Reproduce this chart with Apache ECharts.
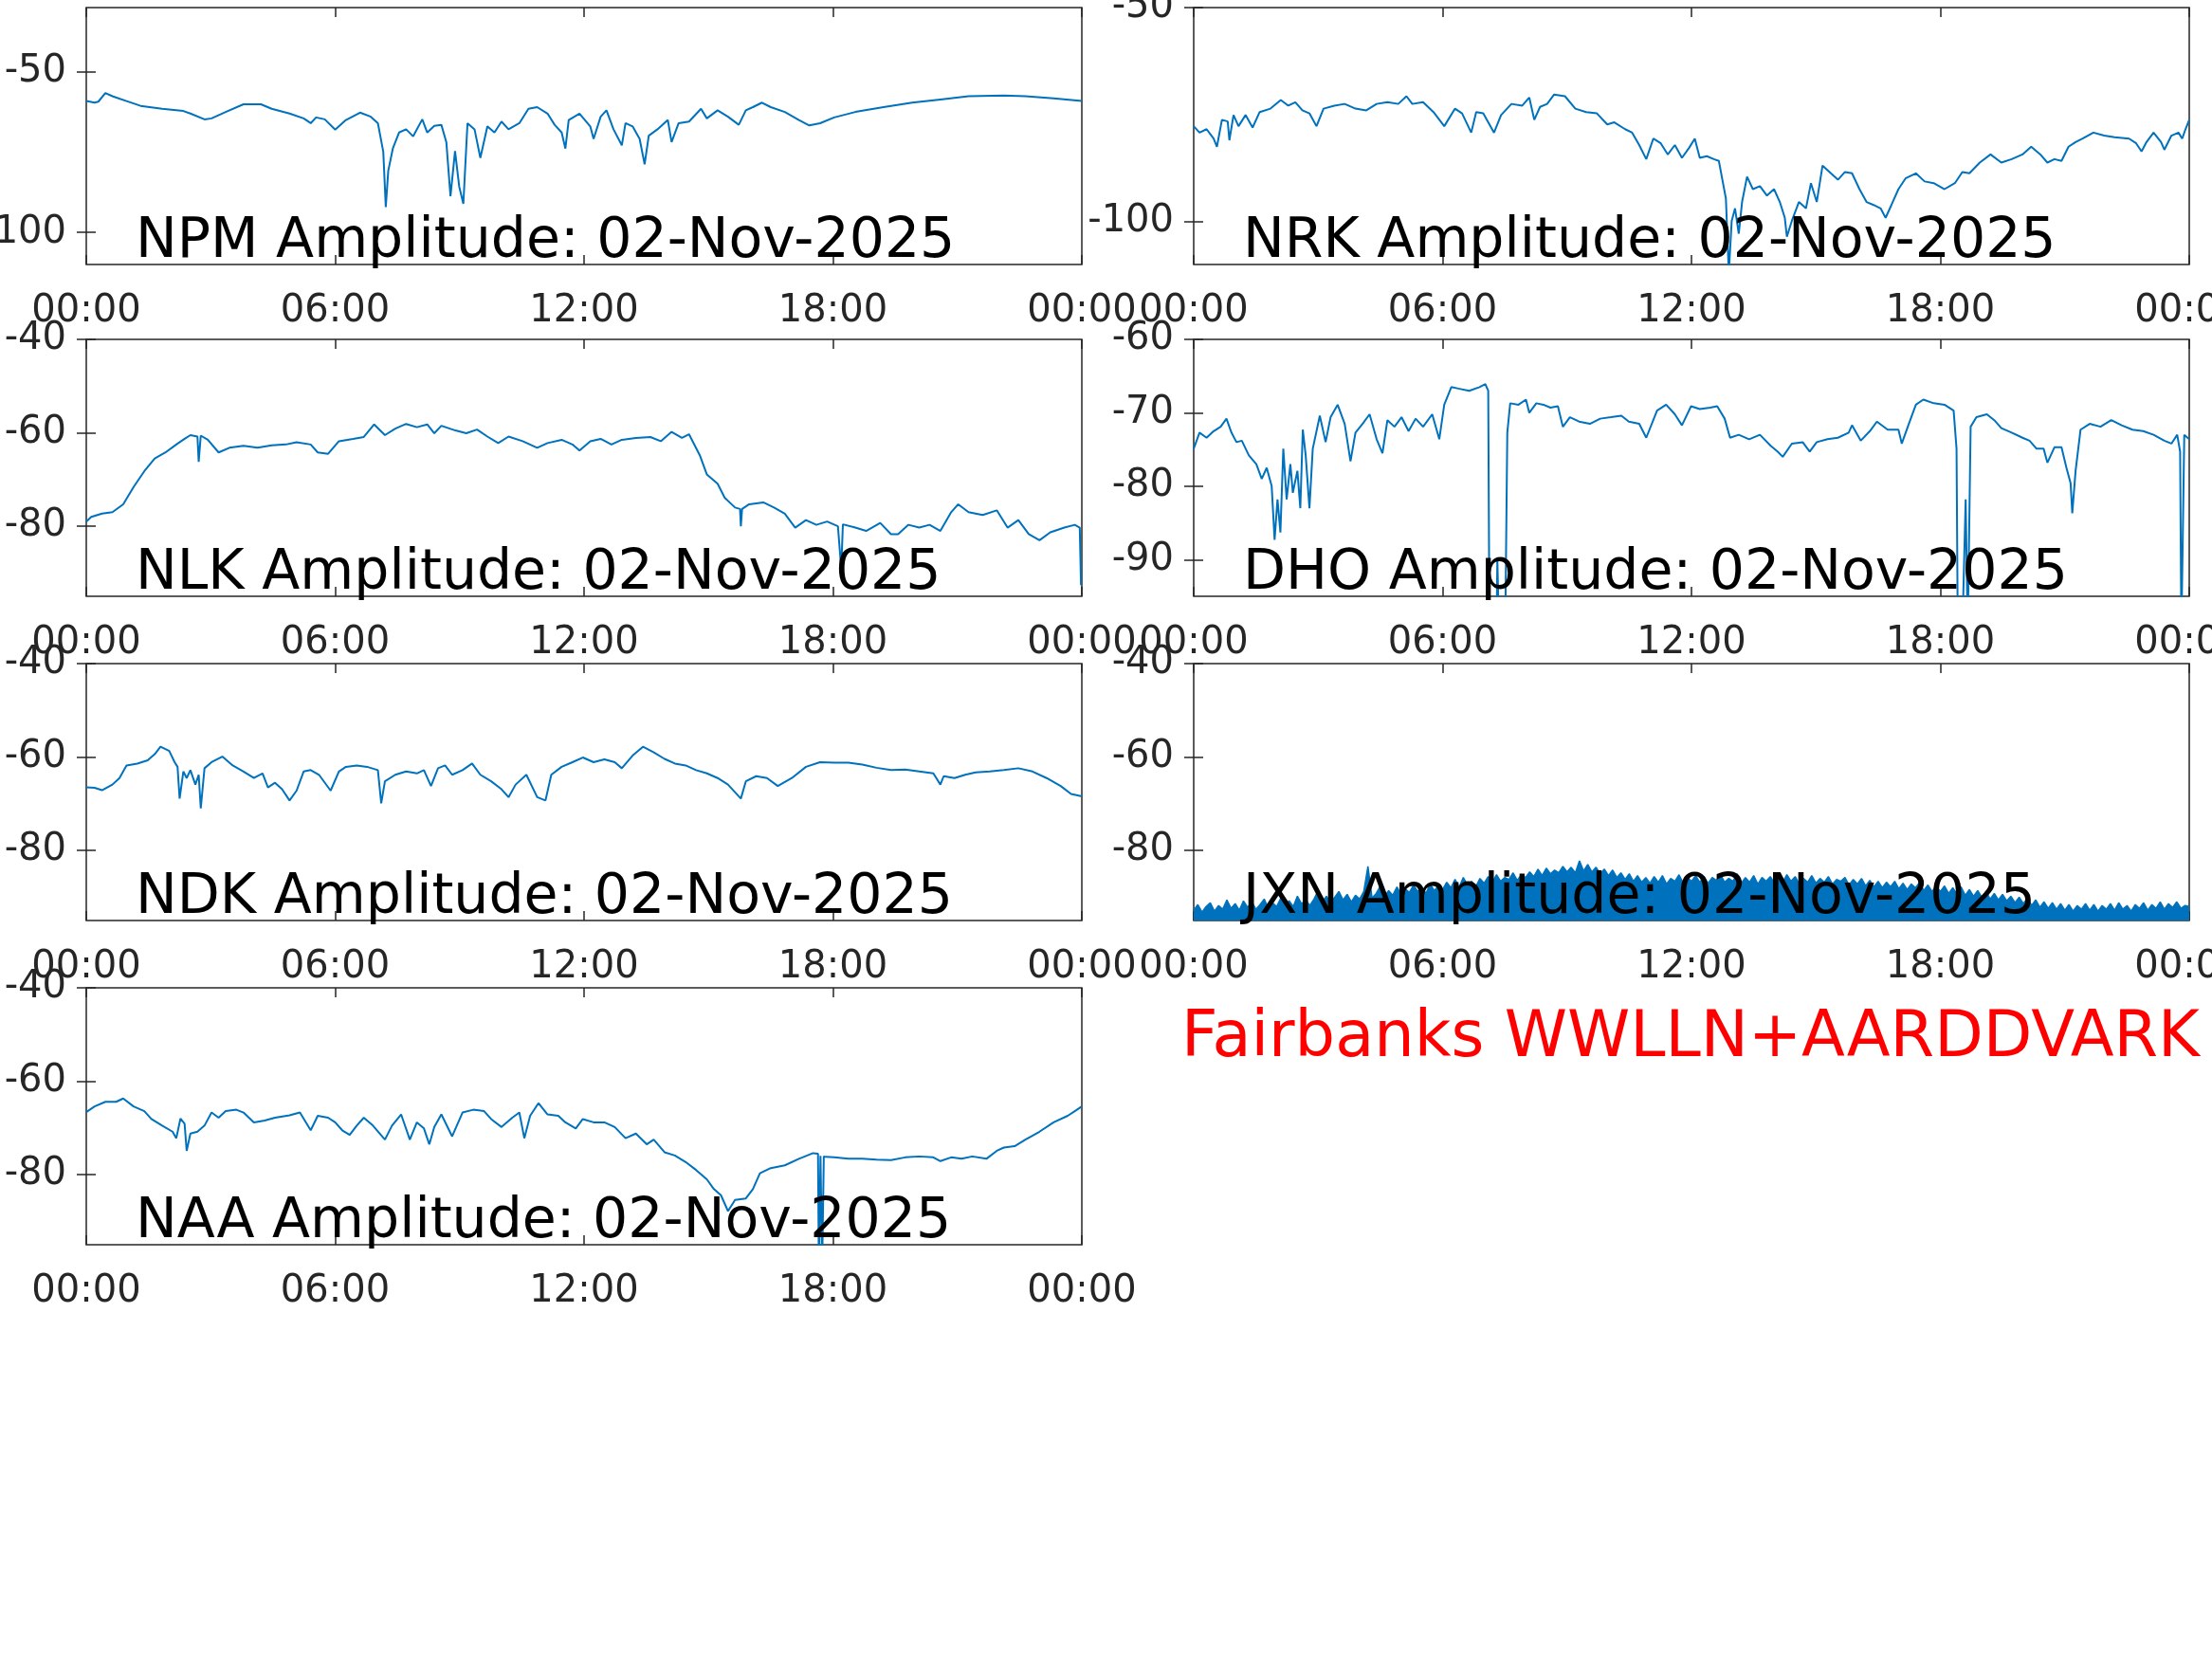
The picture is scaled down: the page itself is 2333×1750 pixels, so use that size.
<!DOCTYPE html>
<html>
<head>
<meta charset="utf-8">
<title>Fairbanks WWLLN+AARDDVARK</title>
<script src="https://cdn.jsdelivr.net/npm/echarts@6/dist/echarts.min.js"></script>
<style>
  html, body { margin: 0; padding: 0; background: #fff; }
  #chart { width: 2333px; height: 1750px; }
</style>
</head>
<body>
<div id="chart"></div>
<script>
// amplitude (dB) vs hour of day, 02-Nov-2025
const hourTicks = [0, 6, 12, 18, 24]
const dayLabel = '02-Nov-2025'

const npm = [[0,-59.1],[0.2,-59.6],[0.29,-59.3],[0.46,-56.6],[0.63,-57.6],[0.97,-59.1],[1.31,-60.6],[1.83,-61.5],[2.34,-62.2],[2.51,-63.0],[2.85,-64.8],[3.02,-64.5],[3.36,-62.5],[3.79,-60.1],[4.21,-60.1],[4.47,-61.5],[4.9,-63.0],[5.24,-64.5],[5.41,-66.0],[5.54,-64.2],[5.75,-64.8],[6.0,-68.0],[6.26,-65.0],[6.6,-62.7],[6.86,-64.0],[7.03,-66.0],[7.16,-74.9],[7.22,-92.1],[7.28,-80.8],[7.39,-73.9],[7.54,-68.9],[7.71,-67.9],[7.88,-70.1],[8.1,-64.8],[8.22,-68.9],[8.39,-66.8],[8.56,-66.5],[8.68,-71.9],[8.78,-88.7],[8.89,-74.7],[8.99,-85.7],[9.09,-91.1],[9.19,-66.0],[9.36,-67.9],[9.5,-76.8],[9.67,-67.0],[9.84,-68.9],[10.01,-65.5],[10.18,-67.9],[10.44,-66.0],[10.66,-61.5],[10.87,-61.0],[11.12,-63.0],[11.29,-66.5],[11.46,-68.9],[11.55,-73.9],[11.63,-65.0],[11.89,-63.0],[12.15,-67.0],[12.23,-70.9],[12.4,-64.0],[12.54,-62.0],[12.71,-67.9],[12.91,-72.9],[13.0,-66.0],[13.17,-67.0],[13.34,-70.9],[13.46,-78.8],[13.56,-69.9],[13.77,-67.9],[14.02,-65.0],[14.11,-71.9],[14.28,-66.0],[14.53,-65.5],[14.82,-61.5],[14.96,-64.5],[15.22,-62.0],[15.47,-64.0],[15.73,-66.5],[15.9,-62.0],[16.07,-61.0],[16.29,-59.6],[16.5,-61.0],[16.84,-62.5],[17.18,-65.0],[17.43,-66.7],[17.69,-66.0],[18.03,-64.2],[18.54,-62.5],[19.22,-61.0],[19.91,-59.6],[20.59,-58.6],[21.27,-57.6],[22.12,-57.4],[22.64,-57.6],[23.32,-58.3],[24,-59.1]]

const nrk = [[0,-77.7],[0.14,-79.2],[0.31,-78.4],[0.48,-80.6],[0.56,-82.5],[0.68,-76.2],[0.82,-76.6],[0.86,-81.0],[0.96,-75.1],[1.08,-77.7],[1.25,-75.1],[1.42,-78.0],[1.59,-74.4],[1.85,-73.6],[2.1,-71.6],[2.28,-72.9],[2.45,-72.1],[2.62,-74.0],[2.79,-74.7],[2.96,-77.7],[3.13,-73.6],[3.39,-72.9],[3.64,-72.5],[3.9,-73.6],[4.16,-74.0],[4.41,-72.5],[4.67,-72.1],[4.93,-72.5],[5.13,-70.7],[5.27,-72.5],[5.53,-72.1],[5.78,-74.4],[6.04,-77.7],[6.3,-73.6],[6.47,-74.7],[6.69,-79.2],[6.81,-74.4],[6.98,-74.7],[7.24,-79.2],[7.41,-75.1],[7.66,-72.5],[7.92,-72.9],[8.09,-71.0],[8.21,-76.2],[8.35,-73.2],[8.52,-72.5],[8.69,-70.3],[8.95,-70.7],[9.2,-73.6],[9.46,-74.4],[9.72,-74.7],[9.97,-77.3],[10.14,-76.8],[10.4,-78.4],[10.57,-79.2],[10.74,-82.1],[10.91,-85.4],[11.08,-80.6],[11.26,-81.7],[11.43,-84.3],[11.6,-82.1],[11.77,-85.1],[11.94,-82.8],[12.08,-80.6],[12.2,-85.1],[12.37,-84.7],[12.54,-85.4],[12.66,-85.8],[12.76,-91.0],[12.83,-94.6],[12.9,-112],[12.97,-99.8],[13.05,-96.9],[13.14,-102.8],[13.22,-95.4],[13.34,-89.5],[13.48,-92.4],[13.65,-91.7],[13.82,-93.9],[13.99,-92.4],[14.13,-95.4],[14.25,-99.1],[14.3,-103.5],[14.42,-99.8],[14.59,-95.4],[14.76,-96.9],[14.88,-91.0],[15.02,-95.4],[15.16,-86.9],[15.36,-88.7],[15.53,-90.2],[15.7,-88.4],[15.87,-88.7],[16.05,-92.4],[16.22,-95.4],[16.39,-96.1],[16.56,-96.9],[16.68,-99.1],[16.82,-96.1],[16.99,-92.4],[17.16,-89.9],[17.41,-88.7],[17.62,-90.6],[17.84,-91.0],[18.1,-92.4],[18.35,-91.0],[18.53,-88.4],[18.7,-88.7],[18.95,-86.2],[19.21,-84.3],[19.47,-86.2],[19.72,-85.4],[19.98,-84.3],[20.19,-82.5],[20.41,-84.3],[20.58,-86.2],[20.75,-85.4],[20.92,-85.8],[21.09,-82.5],[21.26,-81.4],[21.43,-80.6],[21.69,-79.2],[21.95,-79.9],[22.2,-80.3],[22.55,-80.6],[22.72,-81.7],[22.85,-83.6],[22.97,-81.4],[23.14,-79.2],[23.32,-81.4],[23.4,-83.2],[23.57,-79.9],[23.74,-79.2],[23.83,-80.6],[23.91,-78.4],[24,-76.2]]

const nlk = [[0,-79.0],[0.12,-78.0],[0.38,-77.3],[0.63,-77.0],[0.89,-75.3],[1.14,-71.6],[1.4,-68.2],[1.65,-65.5],[1.91,-64.2],[2.17,-62.5],[2.37,-61.3],[2.51,-60.5],[2.68,-60.8],[2.71,-66.2],[2.76,-60.6],[2.93,-61.5],[3.19,-64.2],[3.45,-63.2],[3.79,-62.8],[4.13,-63.2],[4.47,-62.7],[4.81,-62.5],[5.07,-62.0],[5.41,-62.5],[5.58,-64.2],[5.83,-64.5],[6.09,-61.8],[6.43,-61.3],[6.69,-60.9],[6.94,-58.2],[7.2,-60.5],[7.45,-59.1],[7.71,-58.1],[7.97,-58.8],[8.22,-58.2],[8.39,-60.1],[8.56,-58.5],[8.9,-59.5],[9.16,-60.1],[9.42,-59.3],[9.67,-60.8],[9.93,-62.2],[10.18,-60.8],[10.52,-61.8],[10.87,-63.2],[11.12,-62.2],[11.46,-61.5],[11.72,-62.5],[11.89,-63.8],[12.15,-61.8],[12.4,-61.3],[12.66,-62.5],[12.91,-61.5],[13.25,-61.1],[13.6,-60.9],[13.85,-61.8],[14.11,-59.8],[14.36,-61.1],[14.53,-60.3],[14.79,-64.8],[14.96,-68.9],[15.22,-70.9],[15.39,-73.9],[15.64,-76.0],[15.76,-76.3],[15.78,-80.0],[15.81,-76.3],[15.98,-75.3],[16.32,-74.9],[16.58,-76.0],[16.84,-77.3],[17.09,-80.3],[17.35,-78.7],[17.6,-79.7],[17.86,-79.0],[18.12,-80.0],[18.2,-89.1],[18.24,-79.6],[18.54,-80.3],[18.8,-81.0],[19.14,-79.3],[19.4,-81.7],[19.57,-81.7],[19.82,-79.7],[20.08,-80.3],[20.33,-79.7],[20.59,-81.0],[20.85,-77.0],[21.02,-75.3],[21.27,-77.0],[21.61,-77.6],[21.95,-76.6],[22.21,-80.3],[22.47,-78.7],[22.72,-81.7],[22.98,-83.0],[23.24,-81.3],[23.58,-80.3],[23.83,-79.7],[23.95,-80.3],[23.98,-92.5],[24,-92.5]]

const dho = [[0,-74.9],[0.14,-72.7],[0.31,-73.4],[0.48,-72.5],[0.65,-71.9],[0.79,-70.8],[0.91,-72.7],[1.03,-74.0],[1.16,-73.8],[1.33,-75.8],[1.51,-77.0],[1.64,-79.0],[1.76,-77.5],[1.88,-80.0],[1.95,-87.3],[2.02,-81.8],[2.09,-86.3],[2.16,-74.9],[2.24,-81.8],[2.33,-77.0],[2.39,-80.9],[2.5,-77.9],[2.57,-83.0],[2.63,-72.3],[2.7,-75.8],[2.79,-83.0],[2.87,-74.9],[3.04,-70.4],[3.18,-74.0],[3.3,-70.6],[3.47,-68.9],[3.64,-71.5],[3.78,-76.6],[3.9,-72.7],[4.07,-71.5],[4.24,-70.2],[4.41,-73.6],[4.55,-75.5],[4.67,-71.0],[4.84,-71.9],[5.01,-70.6],[5.18,-72.5],[5.35,-70.8],[5.53,-71.9],[5.75,-70.2],[5.92,-73.6],[6.04,-68.9],[6.21,-66.5],[6.38,-66.7],[6.64,-67.0],[6.89,-66.5],[7.03,-66.1],[7.1,-67.0],[7.13,-100],[7.3,-100],[7.32,-89.9],[7.36,-100],[7.51,-100],[7.56,-72.7],[7.63,-68.7],[7.83,-68.9],[8.01,-68.2],[8.09,-70.0],[8.26,-68.7],[8.43,-68.9],[8.6,-69.3],[8.78,-69.1],[8.9,-71.9],[9.07,-70.6],[9.29,-71.2],[9.55,-71.5],[9.8,-70.8],[10.06,-70.6],[10.31,-70.4],[10.49,-71.2],[10.74,-71.5],[10.91,-73.4],[11.17,-69.7],[11.39,-68.9],[11.6,-70.2],[11.77,-71.7],[11.99,-69.1],[12.2,-69.5],[12.45,-69.3],[12.62,-69.1],[12.8,-70.8],[12.93,-73.4],[13.14,-73.0],[13.39,-73.6],[13.65,-73.0],[13.91,-74.5],[14.08,-75.3],[14.2,-76.0],[14.42,-74.2],[14.68,-74.0],[14.85,-75.3],[15.02,-74.0],[15.28,-73.6],[15.53,-73.4],[15.79,-72.7],[15.87,-71.7],[16.08,-73.8],[16.3,-72.5],[16.47,-71.2],[16.73,-72.3],[16.99,-72.3],[17.07,-74.2],[17.24,-71.5],[17.41,-68.9],[17.59,-68.2],[17.84,-68.7],[18.1,-68.9],[18.32,-69.7],[18.39,-74.9],[18.42,-100],[18.53,-100],[18.61,-81.8],[18.66,-100],[18.7,-100],[18.73,-71.9],[18.87,-70.6],[19.12,-70.2],[19.3,-71.0],[19.47,-72.1],[19.72,-72.7],[19.98,-73.4],[20.15,-73.8],[20.32,-74.9],[20.49,-74.9],[20.58,-76.8],[20.75,-74.7],[20.92,-74.7],[21.04,-77.5],[21.14,-79.6],[21.18,-83.7],[21.26,-77.9],[21.38,-72.3],[21.6,-71.5],[21.86,-71.9],[22.12,-71.0],[22.37,-71.7],[22.63,-72.3],[22.89,-72.5],[23.14,-73.0],[23.4,-73.8],[23.57,-74.2],[23.71,-73.0],[23.78,-75.3],[23.81,-100],[23.84,-100],[23.88,-73.0],[24,-73.6]]

const ndk = [[0,-66.5],[0.2,-66.6],[0.38,-67.1],[0.63,-65.9],[0.8,-64.5],[0.97,-61.8],[1.23,-61.4],[1.48,-60.7],[1.65,-59.4],[1.79,-57.8],[2.0,-58.7],[2.13,-61.1],[2.2,-62.1],[2.25,-68.9],[2.34,-63.1],[2.42,-64.5],[2.51,-62.8],[2.63,-65.9],[2.71,-63.8],[2.76,-71.0],[2.85,-62.4],[3.02,-61.1],[3.28,-59.9],[3.53,-61.8],[3.79,-63.1],[4.04,-64.5],[4.25,-63.5],[4.38,-66.5],[4.55,-65.5],[4.72,-66.9],[4.9,-69.3],[5.07,-67.2],[5.24,-63.1],[5.41,-62.8],[5.61,-63.8],[5.89,-67.2],[6.09,-63.1],[6.26,-62.1],[6.52,-61.8],[6.77,-62.1],[7.03,-62.8],[7.11,-69.9],[7.2,-65.2],[7.45,-63.8],[7.71,-63.1],[7.97,-63.5],[8.14,-62.8],[8.31,-66.2],[8.48,-62.4],[8.65,-61.8],[8.82,-63.8],[9.07,-62.8],[9.3,-61.4],[9.5,-63.8],[9.76,-65.2],[10.01,-66.9],[10.18,-68.6],[10.35,-65.9],[10.61,-63.8],[10.87,-68.6],[11.07,-69.3],[11.21,-63.8],[11.46,-62.1],[11.72,-61.1],[11.97,-60.1],[12.23,-61.1],[12.49,-60.5],[12.74,-61.1],[12.91,-62.4],[13.17,-59.7],[13.42,-57.8],[13.68,-59.0],[13.94,-60.4],[14.19,-61.4],[14.45,-61.8],[14.7,-62.8],[14.96,-63.5],[15.22,-64.5],[15.47,-65.9],[15.78,-68.9],[15.9,-65.2],[16.15,-64.1],[16.41,-64.5],[16.67,-66.2],[17.01,-64.5],[17.35,-62.1],[17.69,-61.1],[18.03,-61.2],[18.37,-61.2],[18.71,-61.6],[19.05,-62.3],[19.4,-62.8],[19.74,-62.7],[20.08,-63.1],[20.42,-63.5],[20.59,-65.9],[20.67,-64.1],[20.93,-64.5],[21.19,-63.8],[21.44,-63.3],[21.78,-63.1],[22.12,-62.8],[22.47,-62.4],[22.81,-63.1],[23.15,-64.5],[23.49,-66.2],[23.74,-67.9],[24,-68.4]]

// JXN is a dense noisy band: its upper edge sampled every 0.1 h, filled down to the axis floor
const jxnStep = 0.1
const jxnTop = [
  -92.8, -91.6, -93.2, -92.0, -91.2, -93.0, -91.8, -92.6, -90.6, -92.4,
  -91.4, -92.8, -90.8, -92.2, -91.0, -92.6, -91.6, -90.4, -92.4, -91.2,
  -92.0, -90.2, -91.8, -90.8, -92.0, -89.8, -91.4, -90.6, -91.8, -90.4,
  -88.6, -91.0, -89.8, -91.2, -90.0, -88.8, -90.6, -89.4, -91.0, -89.6,
  -90.4, -88.8, -83.4, -90.2, -89.2, -87.6, -89.8, -88.6, -89.6, -87.8,
  -89.4, -88.2, -89.0, -87.4, -88.8, -87.8, -89.2, -87.2, -88.6, -87.6,
  -88.4, -86.8, -88.0, -86.2, -87.8, -85.8, -87.4, -86.6, -87.8, -86.0,
  -87.0, -85.6, -86.8, -85.2, -86.6, -85.8, -86.2, -84.8, -86.4, -85.2,
  -85.8, -84.6, -85.6, -84.0, -85.4, -83.8, -85.0, -84.2, -84.8, -83.4,
  -84.6, -83.6, -84.8, -82.2, -84.4, -83.0, -84.6, -83.6, -85.0, -84.0,
  -85.4, -84.2, -85.8, -84.8, -86.2, -85.0, -86.6, -85.4, -86.8, -85.8,
  -87.0, -85.6, -86.8, -85.4, -87.2, -86.0, -86.6, -85.2, -87.0, -85.8,
  -86.6, -85.4, -86.8, -85.6, -87.0, -85.8, -86.4, -85.2, -86.8, -86.0,
  -86.6, -85.0, -87.0, -85.8, -86.8, -85.4, -87.2, -85.8, -86.6, -85.6,
  -87.0, -85.8, -86.8, -85.2, -86.6, -85.6, -87.2, -86.0, -86.8, -85.4,
  -87.0, -86.0, -86.8, -85.6, -87.2, -86.2, -86.6, -85.8, -87.4, -86.2,
  -87.2, -86.0, -87.6, -86.4, -87.8, -86.6, -88.0, -86.8, -87.8, -86.6,
  -88.2, -87.0, -88.4, -87.2, -88.0, -86.8, -88.6, -87.4, -88.8, -87.6,
  -88.8, -87.6, -89.2, -88.0, -89.4, -87.8, -89.6, -88.4, -89.8, -88.6,
  -90.0, -88.8, -90.4, -89.2, -90.6, -89.4, -90.8, -89.8, -91.2, -90.0,
  -91.4, -90.2, -91.8, -90.6, -92.2, -91.0, -92.4, -91.2, -92.6, -91.4,
  -92.8, -91.6, -93.0, -91.8, -92.6, -91.4, -92.8, -91.6, -93.0, -91.8,
  -92.6, -91.4, -92.8, -91.2, -92.6, -91.8, -93.0, -91.6, -92.4, -91.2,
  -92.8, -91.6, -92.4, -91.0, -92.6, -91.4, -92.2, -91.0, -92.4, -91.8,
  -92.0
]
const jxn = jxnTop.map((v, i) => [+(i * jxnStep).toFixed(2), v])

const naa = [[0,-66.6],[0.2,-65.4],[0.46,-64.4],[0.72,-64.4],[0.89,-63.7],[1.14,-65.4],[1.4,-66.4],[1.57,-68.1],[1.83,-69.5],[2.08,-70.8],[2.17,-72.2],[2.27,-68.0],[2.37,-69.1],[2.42,-74.9],[2.51,-71.2],[2.68,-70.8],[2.85,-69.5],[3.02,-66.7],[3.19,-67.8],[3.36,-66.4],[3.62,-66.1],[3.79,-66.7],[4.04,-68.8],[4.3,-68.4],[4.55,-67.8],[4.9,-67.3],[5.15,-66.7],[5.41,-70.5],[5.58,-67.4],[5.83,-67.8],[6.0,-68.8],[6.17,-70.5],[6.35,-71.5],[6.52,-69.5],[6.69,-67.8],[6.91,-69.5],[7.2,-72.5],[7.37,-69.5],[7.59,-67.1],[7.8,-72.5],[7.97,-68.8],[8.14,-70.1],[8.27,-73.5],[8.39,-69.8],[8.56,-67.1],[8.82,-71.8],[9.07,-66.7],[9.33,-66.1],[9.59,-66.4],[9.76,-68.1],[10.01,-69.8],[10.27,-67.8],[10.44,-66.7],[10.56,-72.2],[10.7,-67.4],[10.9,-64.7],[11.12,-67.1],[11.38,-67.4],[11.55,-68.8],[11.8,-70.1],[11.97,-68.1],[12.23,-68.8],[12.49,-68.8],[12.74,-69.8],[13.0,-72.2],[13.25,-71.2],[13.51,-73.5],[13.68,-72.5],[13.94,-75.2],[14.19,-75.9],[14.45,-77.3],[14.7,-79.0],[14.96,-81.0],[15.13,-83.1],[15.3,-84.4],[15.47,-87.8],[15.64,-85.4],[15.9,-85.1],[16.07,-83.1],[16.24,-79.7],[16.5,-78.6],[16.84,-78.0],[17.18,-76.6],[17.52,-75.4],[17.64,-75.5],[17.66,-100],[17.7,-76.0],[17.74,-100],[17.78,-76.1],[17.83,-76.2],[18.03,-76.3],[18.37,-76.6],[18.71,-76.6],[19.05,-76.8],[19.4,-76.9],[19.74,-76.3],[20.08,-76.1],[20.42,-76.3],[20.59,-77.1],[20.85,-76.3],[21.1,-76.6],[21.36,-76.1],[21.7,-76.6],[21.95,-74.9],[22.12,-74.2],[22.38,-73.9],[22.64,-72.5],[22.98,-70.8],[23.32,-68.8],[23.66,-67.4],[23.83,-66.4],[24,-65.4]]

const stations = [
  { name: 'NPM', data: npm, min: -110, max: -30, ticks: [-100, -50] },
  { name: 'NRK', data: nrk, min: -110, max: -50, ticks: [-100, -50] },
  { name: 'NLK', data: nlk, min: -95, max: -40, ticks: [-80, -60, -40] },
  { name: 'DHO', data: dho, min: -95, max: -60, ticks: [-90, -80, -70, -60] },
  { name: 'NDK', data: ndk, min: -95, max: -40, ticks: [-80, -60, -40] },
  { name: 'JXN', data: jxn, min: -95, max: -40, ticks: [-80, -60, -40], band: true },
  { name: 'NAA', data: naa, min: -95, max: -40, ticks: [-80, -60, -40] }
]

// panel placement (px)
const cells = [[91, 8], [1259, 8], [91, 358], [1259, 358], [91, 700], [1259, 700], [91, 1042]]
const cellW = 1050
const cellH = 271

const font = 'DejaVu Sans'
const axisColor = '#262626'
const lineColor = '#0072BD'

const grid = []
const xAxis = []
const yAxis = []
const series = []
const title = []

const tickStyle = { inside: true, length: 10, lineStyle: { color: axisColor, width: 1.5 } }

stations.forEach((s, i) => {
  const [left, top] = cells[i]
  grid.push({
    left: left, top: top, width: cellW, height: cellH,
    containLabel: false, outerBoundsMode: 'none',
    show: true, borderColor: axisColor, borderWidth: 1.5, backgroundColor: 'transparent'
  })
  const xBase = {
    type: 'value', gridIndex: i, min: 0, max: 24, interval: 6,
    axisLine: { show: false }, splitLine: { show: false }
  }
  xAxis.push(Object.assign({}, xBase, {
    position: 'bottom',
    axisTick: tickStyle,
    axisLabel: {
      margin: 30, fontSize: 40, color: axisColor, fontFamily: font,
      formatter: v => String(v % 24).padStart(2, '0') + ':00'
    }
  }))
  xAxis.push(Object.assign({}, xBase, {
    position: 'top', axisTick: tickStyle, axisLabel: { show: false }
  }))
  const yBase = {
    type: 'value', gridIndex: i, min: s.min, max: s.max,
    axisLine: { show: false }, splitLine: { show: false }
  }
  yAxis.push(Object.assign({}, yBase, {
    position: 'left',
    axisTick: Object.assign({ customValues: s.ticks }, tickStyle),
    axisLabel: {
      customValues: s.ticks, margin: 21, fontSize: 40, color: axisColor, fontFamily: font,
      padding: [5, 0, 0, 0]
    }
  }))
  yAxis.push(Object.assign({}, yBase, {
    position: 'right',
    axisTick: Object.assign({ customValues: s.ticks }, tickStyle),
    axisLabel: { show: false }
  }))
  const ser = {
    type: 'line', name: s.name, data: s.data,
    xAxisIndex: 2 * i, yAxisIndex: 2 * i,
    showSymbol: false, symbol: 'none', clip: true,
    lineStyle: { color: lineColor, width: 2 },
    z: 2
  }
  if (s.band) {
    ser.lineStyle.width = 1.5
    ser.areaStyle = { color: lineColor, opacity: 1, origin: 'start' }
  }
  series.push(ser)
  title.push({
    text: s.name + ' Amplitude: ' + dayLabel,
    left: left + 52, top: top + cellH - 53, padding: 0,
    textStyle: { fontSize: 58.5, fontWeight: 'normal', color: '#000', fontFamily: font }
  })
})

title.push({
  text: 'Fairbanks WWLLN+AARDDVARK',
  left: 1246, top: 1063, padding: 0,
  textStyle: { fontSize: 67, fontWeight: 'normal', color: '#FF0000', fontFamily: font }
})

const chart = echarts.init(document.getElementById('chart'), null, { renderer: 'canvas' })
chart.setOption({
  animation: false,
  backgroundColor: '#fff',
  title: title,
  grid: grid,
  xAxis: xAxis,
  yAxis: yAxis,
  series: series
})
</script>
</body>
</html>
